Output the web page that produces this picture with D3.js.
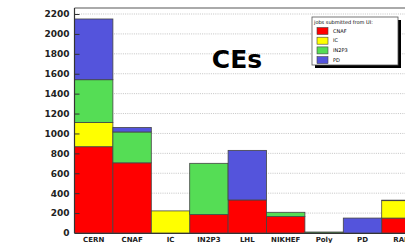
<!DOCTYPE html>
<html>
<head>
<meta charset="utf-8">
<script src="https://cdnjs.cloudflare.com/ajax/libs/d3/7.8.5/d3.min.js"></script>
<style>
  body { margin: 0; background: #fff; overflow: hidden; }
  svg { display: block; }
  .tick text { font-family: "DejaVu Sans", sans-serif; font-weight: bold; }
</style>
</head>
<body>
<div class="chart"></div>
<script>
var w = 405;
var h = 243;

var sites = ["CERN", "CNAF", "IC", "IN2P3", "LHL", "NIKHEF", "Poly", "PD", "RAL"];
var sources = ["CNAF", "IC", "IN2P3", "PD"];
var colors = ["#ff0000", "#ffff00", "#55dd55", "#5454dc"];

// jobs per site, one array per submitting UI
var fromCNAF  = [867, 705,   0, 185, 332, 165,  0,   0, 150];
var fromIC    = [243,   0, 222,   0,   0,   0,  0,   0, 175];
var fromIN2P3 = [430, 310,   0, 515,   0,  43, 10,   0,   5];
var fromPD    = [610,  45,   0,   0, 498,   0,  0, 150,   0];

var yTicks = d3.range(0, 2201, 200);

var table = sites.map(function(s, i) {
  return {site: s, CNAF: fromCNAF[i], IC: fromIC[i], IN2P3: fromIN2P3[i], PD: fromPD[i]};
});
var series = d3.stack().keys(sources)(table);

var xScale = d3.scaleBand()
               .domain(sites)
               .range([74.5, 74.5 + 38.4 * sites.length])
               .padding(0);

var yScale = d3.scaleLinear()
               .domain([0, 2200])
               .range([233, 14]);

var svg = d3.select(".chart").append("svg")
            .attr("width", w)
            .attr("height", h);

// frame top
svg.append("line")
   .attr("x1", xScale.range()[0]).attr("x2", w)
   .attr("y1", yScale(2260)).attr("y2", yScale(2260))
   .style("stroke", "#aaa").style("stroke-width", 2);

// gridlines
svg.selectAll("line.grid")
   .data(yTicks.slice(1))
   .enter()
   .append("line")
   .attr("class", "grid")
   .attr("x1", xScale.range()[0])
   .attr("x2", w)
   .attr("y1", function(d) { return yScale(d); })
   .attr("y2", function(d) { return yScale(d); })
   .style("stroke", "#aaa")
   .style("stroke-width", 0.7)
   .style("stroke-dasharray", "1,1.2");

// bars
svg.selectAll("g.layer")
   .data(series)
   .enter()
   .append("g")
   .attr("class", "layer")
   .style("fill", function(d, i) { return colors[i]; })
   .selectAll("rect")
   .data(function(d) { return d.filter(function(p) { return p[1] > p[0]; }); })
   .enter()
   .append("rect")
   .attr("x", function(d) { return xScale(d.data.site); })
   .attr("y", function(d) { return yScale(d[1]); })
   .attr("width", xScale.bandwidth())
   .attr("height", function(d) { return yScale(d[0]) - yScale(d[1]); })
   .style("stroke", "#444")
   .style("stroke-width", 0.8);

// axes
var yAxis = d3.axisLeft(yScale)
              .tickValues(yTicks)
              .tickFormat(d3.format("d"))
              .tickSizeInner(-5)
              .tickSizeOuter(0)
              .tickPadding(4);

var gy = svg.append("g")
   .attr("transform", "translate(" + xScale.range()[0] + ",0)")
   .call(yAxis);
gy.selectAll("text").style("font-size", "9px").style("fill", "#222").attr("dx", "-1");
gy.selectAll("line").style("stroke", "#333");
gy.select("path").remove();

svg.append("line")
   .attr("x1", xScale.range()[0]).attr("x2", xScale.range()[0])
   .attr("y1", yScale(2260)).attr("y2", yScale(0))
   .style("stroke", "#333").style("stroke-width", 1.2);

var xAxis = d3.axisBottom(xScale).tickSize(0).tickPadding(4);
var gx = svg.append("g")
   .attr("transform", "translate(0," + yScale(0) + ")")
   .call(xAxis);
gx.selectAll("text").style("font-size", "7px").style("fill", "#222");
gx.select("path").style("stroke", "#333").style("stroke-width", 1.2);

// title
svg.append("text")
   .attr("x", 237)
   .attr("y", 68)
   .attr("text-anchor", "middle")
   .style("font-family", "'Comic Sans MS', 'DejaVu Sans', sans-serif")
   .style("font-weight", "bold")
   .style("font-size", "25px")
   .text("CEs");

// legend
var legend = svg.append("g").attr("transform", "translate(312,17)");
legend.append("rect")
      .attr("x", 3).attr("y", 3).attr("width", 86).attr("height", 48)
      .style("fill", "#000");
legend.append("rect")
      .attr("x", 0).attr("y", 0).attr("width", 86).attr("height", 48)
      .style("fill", "#fff").style("stroke", "#555").style("stroke-width", 0.8);
legend.append("text")
      .attr("x", 2).attr("y", 6.5)
      .style("font-family", "'DejaVu Sans', sans-serif")
      .style("font-size", "5px")
      .text("jobs submitted from UI:");

var entries = legend.selectAll("g.entry")
      .data(sources)
      .enter()
      .append("g")
      .attr("class", "entry")
      .attr("transform", function(d, i) { return "translate(5," + (10.5 + i * 9.7) + ")"; });
entries.append("rect")
       .attr("width", 11).attr("height", 7)
       .style("fill", function(d, i) { return colors[i]; })
       .style("stroke", "#444").style("stroke-width", 0.6);
entries.append("text")
       .attr("x", 16).attr("y", 5)
       .style("font-family", "'DejaVu Sans', sans-serif")
       .style("font-size", "5px")
       .text(function(d) { return d; });
</script>
</body>
</html>
